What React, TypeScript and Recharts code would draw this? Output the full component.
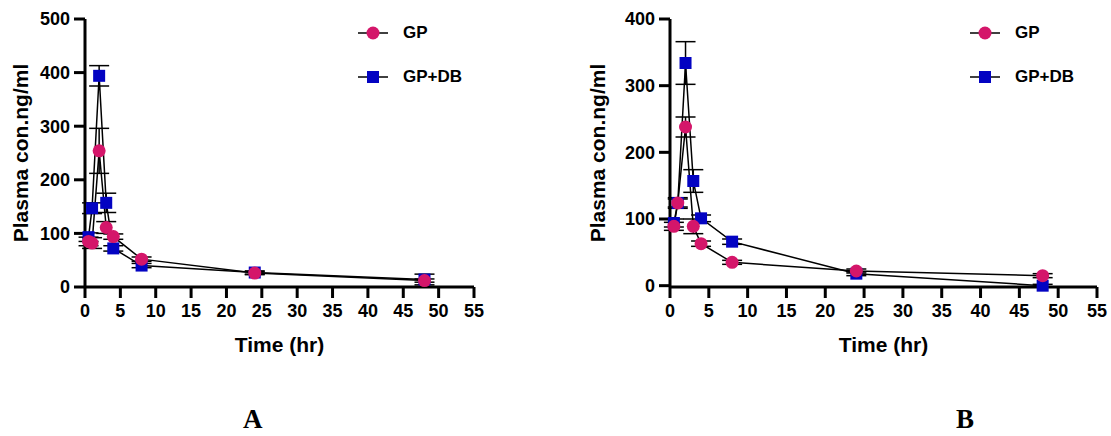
import { LineChart, Line, XAxis, YAxis, ErrorBar, Label, Legend } from "recharts";

const times = [0.5, 1, 2, 3, 4, 8, 24, 48];
const xTicks = [0, 5, 10, 15, 20, 25, 30, 35, 40, 45, 50, 55];

// panel A
const gpA = [85, 82, 254, 111, 94, 52, 26, 12];
const gpASd = [8, 10, 42, 11, 5, 4, 3, 3];
const gpdbA = [93, 147, 394, 157, 72, 40, 27, 14];
const gpdbASd = [8, 10, 19, 18, 5, 4, 3, 10];
const yTicksA = [0, 100, 200, 300, 400, 500];

// panel B
const gpB = [89, 124, 238, 89, 63, 35, 22, 15];
const gpBSd = [6, 6, 15, 11, 4, 3, 3, 3];
const gpdbB = [94, 124, 334, 157, 101, 66, 18, 0];
const gpdbBSd = [6, 8, 32, 17, 5, 4, 3, 2];
const yTicksB = [0, 100, 200, 300, 400];

const GP_COLOR = "#d4166a";
const GPDB_COLOR = "#0303c2";
const FONT = "'Liberation Sans', Arial, sans-serif";

const buildRows = (gp: number[], gpSd: number[], gpdb: number[], gpdbSd: number[]) =>
  times.map((t, i) => ({ t, gp: gp[i], gpSd: gpSd[i], gpdb: gpdb[i], gpdbSd: gpdbSd[i] }));

const CircleDot = (props: any) => {
  const { cx, cy, index } = props;
  if (cx == null || cy == null) return null;
  return <circle key={`c-${index}`} cx={cx} cy={cy} r={6.5} fill={GP_COLOR} />;
};

const SquareDot = (props: any) => {
  const { cx, cy, index } = props;
  if (cx == null || cy == null) return null;
  return <rect key={`s-${index}`} x={cx - 6} y={cy - 6} width={12} height={12} fill={GPDB_COLOR} />;
};

const legendItems = [
  { name: "GP", shape: "circle" },
  { name: "GP+DB", shape: "square" },
];

const LegendBox = () => (
  <div style={{ fontFamily: FONT, fontWeight: "bold", fontSize: 17, color: "#000" }}>
    {legendItems.map((item) => (
      <div key={item.name} style={{ display: "flex", alignItems: "center", height: 44 }}>
        <svg width={30} height={16} style={{ marginRight: 15 }}>
          <line x1={0} y1={8} x2={30} y2={8} stroke="#000" strokeWidth={1.5} />
          {item.shape === "circle" ? (
            <circle cx={15} cy={8} r={6.5} fill={GP_COLOR} />
          ) : (
            <rect x={9} y={2} width={12} height={12} fill={GPDB_COLOR} />
          )}
        </svg>
        <span>{item.name}</span>
      </div>
    ))}
  </div>
);

interface PanelProps {
  rows: ReturnType<typeof buildRows>;
  yTicks: number[];
  width: number;
  yAxisWidth: number;
  right: number;
  labelOffset: number;
  legendLeft: number;
}

const tickStyle = { fill: "#000", fontSize: 18, fontWeight: "bold", fontFamily: FONT };
const titleStyle = { fill: "#000", fontSize: 21, fontWeight: "bold", fontFamily: FONT, textAnchor: "middle" as const };

const Panel = ({ rows, yTicks, width, yAxisWidth, right, labelOffset, legendLeft }: PanelProps) => (
  <LineChart
    width={width}
    height={370}
    data={rows}
    margin={{ top: 19, right, left: 0, bottom: 13 }}
  >
    <XAxis
      dataKey="t"
      type="number"
      domain={[0, 55]}
      ticks={xTicks}
      interval={0}
      height={70}
      tickSize={11}
      stroke="#000"
      strokeWidth={3}
      tick={tickStyle}
      tickMargin={6}
    >
      <Label value="Time (hr)" position="insideBottom" offset={5} style={titleStyle} />
    </XAxis>
    <YAxis
      type="number"
      domain={[0, yTicks[yTicks.length - 1]]}
      ticks={yTicks}
      interval={0}
      width={yAxisWidth}
      tickSize={11}
      stroke="#000"
      strokeWidth={3}
      tick={tickStyle}
      tickMargin={4}
    >
      <Label value="Plasma con.ng/ml" angle={-90} position="insideLeft" offset={labelOffset} style={titleStyle} />
    </YAxis>
    {/* vertical + center + middle: legend takes no plot space, placed by wrapperStyle */}
    <Legend
      content={<LegendBox />}
      layout="vertical"
      verticalAlign="middle"
      align="center"
      wrapperStyle={{ top: 11, left: legendLeft, width: 160 }}
    />
    <Line
      dataKey="gpdb"
      name="GP+DB"
      stroke="#000"
      strokeWidth={1.5}
      dot={SquareDot}
      activeDot={false}
      isAnimationActive={false}
    >
      <ErrorBar dataKey="gpdbSd" direction="y" width={10} stroke="#000" strokeWidth={1.5} />
    </Line>
    <Line
      dataKey="gp"
      name="GP"
      stroke="#000"
      strokeWidth={1.5}
      dot={CircleDot}
      activeDot={false}
      isAnimationActive={false}
    >
      <ErrorBar dataKey="gpSd" direction="y" width={10} stroke="#000" strokeWidth={1.5} />
    </Line>
  </LineChart>
);

const panelLetter = {
  position: "absolute" as const,
  top: 406,
  height: 27,
  lineHeight: "27px",
  fontFamily: "'Liberation Serif', 'Times New Roman', serif",
  fontWeight: "bold",
  fontSize: 27,
};

export default function App() {
  return (
    <div style={{ position: "absolute", left: 0, top: 0, width: 1111, height: 436, background: "#fff", overflow: "hidden" }}>
      <div style={{ position: "absolute", left: 0, top: 0 }}>
        <Panel
          rows={buildRows(gpA, gpASd, gpdbA, gpdbASd)}
          yTicks={yTicksA}
          width={555}
          yAxisWidth={85}
          right={81}
          labelOffset={21}
          legendLeft={358}
        />
      </div>
      <div style={{ position: "absolute", left: 580, top: 0 }}>
        <Panel
          rows={buildRows(gpB, gpBSd, gpdbB, gpdbBSd)}
          yTicks={yTicksB}
          width={531}
          yAxisWidth={90}
          right={14}
          labelOffset={18}
          legendLeft={390}
        />
      </div>
      <div style={{ ...panelLetter, left: 243 }}>A</div>
      <div style={{ ...panelLetter, left: 956 }}>B</div>
    </div>
  );
}
